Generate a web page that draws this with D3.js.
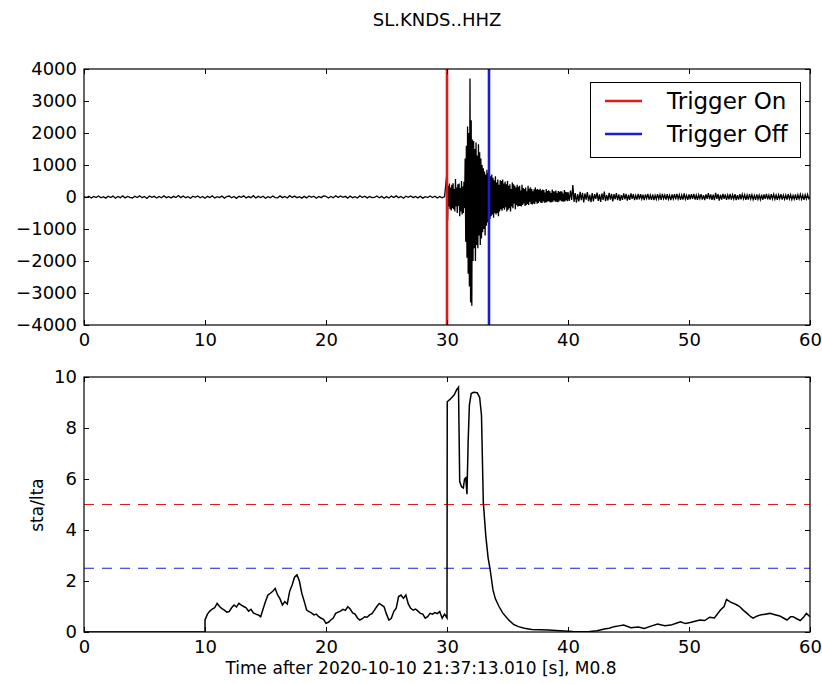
<!DOCTYPE html>
<html><head><meta charset="utf-8">
<script src="https://cdn.jsdelivr.net/npm/d3@7"></script>
<style>body{margin:0;background:#fff}svg{display:block}text{font-family:"DejaVu Sans",sans-serif;fill:#000}</style>
</head><body><svg id="c" width="822" height="684"></svg>
<script>
const title = "SL.KNDS..HHZ";
const xLabel = "Time after 2020-10-10 21:37:13.010 [s], M0.8";
const yLabel2 = "sta/lta";
const xTicks = [0,10,20,30,40,50,60];
const yTicks1 = [-4000,-3000,-2000,-1000,0,1000,2000,3000,4000];
const yTicks2 = [0,2,4,6,8,10];
const triggerOn = 30.0, triggerOff = 33.47;
const thrOn = 5.0, thrOff = 2.5;
const legendLabels = ["Trigger On","Trigger Off"];
// waveform: pre-event noise (0.2 s step from 0 s)
const preNoise = [12,-20,25,-30,18,-15,30,-25,10,-35,22,-18,28,-40,15,-22,35,-28,20,-12,
-30,25,-15,40,-20,18,-45,30,-10,22,-33,15,-25,38,-20,12,-28,20,-15,45,
-18,30,-22,10,-38,25,-12,32,-26,18,-40,22,-15,35,-30,12,-20,28,-35,15,
30,-25,18,-42,22,-10,36,-28,14,-20,40,-32,20,-15,25,-38,12,-22,30,-18,
-25,35,-20,15,-30,42,-15,28,-22,10,-35,20,-28,32,-12,25,-40,18,-20,35,
22,-30,15,-25,38,-18,30,-12,20,-35,28,-22,10,-30,40,-15,25,-28,18,-20,
-15,32,-25,20,-38,12,-30,28,-18,35,-22,15,-40,25,-12,30,-20,18,-28,22,
-35,10,-20,30,-15,25,-30,18,-25,12];
// event (0.05 s step from 30 s)
const eventVals = [780,-740,350,-300,420,-380,300,-420,380,-350,
430,-380,250,-450,560,-300,300,-500,400,-280,
420,-600,280,-450,500,-550,330,-500,480,-350,
1200,-1400,1600,-1900,2200,-2400,2000,-2800,3700,-3300,
2400,-3400,1800,-2000,1750,-1600,1500,-2000,1700,-1500,
1300,-1600,1650,-1200,1400,-1500,1200,-1300,1000,-1100,
900,-1000,800,-1200,700,-900,850,-800,750,-700,
780,-690,650,-600,700,-550,600,-650,520,-500,
650,-550,450,-500,550,-600,380,-450,520,-380,
500,-430,550,-350,420,-400,480,-320,400,-450,
500,-400,350,-350,400,-450,250,-300,450,-350,400,-200,350,-380,300,-250,380,-300,320,-280,
350,-280,200,-300,380,-250,280,-200,250,-280,300,-250,180,-220,350,-250,260,-150,300,-220,
250,-230,180,-200,240,-220,300,-150,230,-210,250,-190,220,-140,260,-180,200,-190,230,-130,
220,-180,140,-170,250,-160,190,-120,210,-150,180,-170,120,-160,230,-150,180,-110,170,-150,
200,-150,120,-160,190,-140,160,-100,180,-130,170,-140,110,-150,220,-130,160,-100,150,-130];
// coda (0.1 s step from 40 s)
const codaVals = [150,-120,200,-90,370,-150,120,-180,90,-140,
160,-100,130,-170,110,-80,150,-130,70,-160,
120,-140,90,-60,140,-120,80,-150,110,-90,
170,-130,60,-110,130,-80,100,-140,90,-70,
120,-100,80,-120,60,-90,110,-70,100,-110,
70,-90,110,-60,90,-100,50,-80,100,-70,
90,-60,70,-100,80,-50,100,-80,60,-90,
80,-100,50,-70,90,-60,70,-90,100,-50,
60,-80,90,-70,50,-100,80,-60,90,-70,
100,-60,70,-90,60,-80,110,-70,50,-90,
80,-70,90,-60,100,-80,60,-90,70,-50,
90,-80,60,-100,80,-60,120,-70,80,-90,
70,-100,130,-60,90,-110,70,-80,100,-60,
80,-90,60,-70,100,-80,70,-60,90,-100,
60,-80,90,-70,80,-60,70,-90,60,-80,
90,-60,70,-80,50,-90,80,-70,60,-80,
70,-90,80,-60,100,-70,60,-80,90,-60,
80,-70,60,-90,70,-50,90,-80,60,-70,
60,-80,90,-60,70,-80,50,-70,80,-90,
70,-60,80,-70,60,-90,70,-60,80,-50,0];
// sta/lta characteristic function
const staTimes = [0,10.0,10.0,10.2,10.4,10.6,10.8,11.0,11.2,11.4,11.6,11.8,12.0,12.2,12.4,12.6,12.8,13.0,13.2,13.4,13.6,13.8,14.0,14.2,14.4,14.6,14.8,15.0,15.2,15.4,15.6,15.8,16.0,16.2,16.4,16.6,16.8,17.0,17.2,17.4,17.6,17.8,18.0,18.2,18.4,18.6,18.8,19.0,19.2,19.4,19.6,19.8,20.0,20.2,20.4,20.6,20.8,21.0,21.2,21.4,21.6,21.8,22.0,22.2,22.4,22.6,22.8,23.0,23.2,23.4,23.6,23.8,24.0,24.2,24.4,24.6,24.8,25.0,25.2,25.4,25.6,25.8,26.0,26.2,26.4,26.6,26.8,27.0,27.2,27.4,27.6,27.8,28.0,28.2,28.4,28.6,28.8,29.0,29.2,29.4,29.6,29.8,30.0,
30.02,30.2,30.4,30.6,30.8,30.95,31.05,31.2,31.35,31.45,31.55,31.65,31.75,31.85,32.0,32.2,32.5,32.7,32.85,33.0,33.2,33.4,33.55,33.8,34.0,34.3,34.6,35.1,35.5,35.9,36.4,37.0,37.7,38.4,39.0,39.7,40.4,41.1,41.8,42.4,43.0,43.4,43.8,44.2,44.6,45.2,45.8,46.3,46.8,47.4,48.0,48.5,49.0,49.3,49.7,50.1,50.5,50.9,51.3,51.7,52.1,52.6,52.9,53.1,53.4,53.7,54.0,54.2,54.5,54.8,55.1,55.3,55.6,55.9,56.3,56.7,57.1,57.5,57.8,58.1,58.4,58.6,58.9,59.2,59.5,59.7,60.0];
const staValues = [0,0,0.47,0.7,0.82,0.9,0.95,1.12,1.0,0.92,0.86,0.78,0.8,0.95,1.06,0.98,1.12,1.05,1.0,0.95,0.82,0.89,0.75,0.7,0.67,0.6,0.9,1.2,1.45,1.52,1.6,1.71,1.45,1.3,1.06,1.19,1.1,1.6,1.84,2.15,2.24,2.0,1.52,1.2,0.86,0.8,0.75,0.67,0.7,0.6,0.54,0.5,0.34,0.38,0.47,0.55,0.73,0.78,0.82,0.89,0.85,0.99,0.9,0.75,0.7,0.55,0.47,0.52,0.6,0.58,0.67,0.72,0.86,1.0,1.12,1.05,0.99,0.7,0.47,0.54,0.8,0.93,1.39,1.45,1.32,1.45,1.1,0.93,0.86,0.9,0.82,0.73,0.7,0.54,0.6,0.73,0.7,0.76,0.72,0.8,0.54,0.7,0.55,
9.03,9.1,9.2,9.3,9.5,9.6,5.9,5.7,5.65,6.0,6.05,5.4,7.5,8.9,9.35,9.4,9.38,9.2,8.5,5.1,3.8,2.9,2.5,1.65,1.3,1.0,0.75,0.47,0.3,0.21,0.15,0.1,0.09,0.08,0.06,0.04,0.02,0.01,0.02,0.05,0.12,0.15,0.21,0.24,0.27,0.17,0.2,0.14,0.22,0.31,0.25,0.27,0.35,0.4,0.33,0.37,0.42,0.47,0.45,0.58,0.55,0.86,1.0,1.28,1.18,1.12,1.05,0.99,0.85,0.73,0.6,0.54,0.62,0.67,0.7,0.73,0.68,0.63,0.55,0.47,0.6,0.6,0.52,0.45,0.6,0.73,0.6];

const svg = d3.select("#c");
svg.append("rect").attr("width",822).attr("height",684).attr("fill","#fff");
const L=84,R=810, T1=69,B1=325, T2=377,B2=632;
const x = d3.scaleLinear().domain([0,60]).range([L,R]);
const y1 = d3.scaleLinear().domain([-4000,4000]).range([B1,T1]);
const y2 = d3.scaleLinear().domain([0,10]).range([B2,T2]);
const red="#e0191b", blue="#1b1bd6";

const wave=[];
preNoise.forEach((v,i)=>wave.push([i*0.2,v]));
eventVals.forEach((v,i)=>wave.push([30+i*0.05,v]));
codaVals.forEach((v,i)=>wave.push([40+i*0.1,v]));
const sta=staTimes.map((t,i)=>[t,staValues[i]]);

svg.append("defs").selectAll("clipPath").data([["c1",T1,B1],["c2",T2,B2]]).join("clipPath")
  .attr("id",d=>d[0]).append("rect").attr("x",L).attr("y",d=>d[1]).attr("width",R-L).attr("height",d=>d[2]-d[1]);

function frame(yS, top, bottom, yt, fmt){
  const g=svg.append("g");
  const ax = g.append("g").attr("transform",`translate(0,${bottom})`)
    .call(d3.axisBottom(x).tickValues(xTicks).tickSizeInner(-5).tickSizeOuter(0).tickPadding(8));
  const axT = g.append("g").attr("transform",`translate(0,${top})`)
    .call(d3.axisTop(x).tickValues(xTicks).tickSizeInner(-5).tickSizeOuter(0).tickFormat(""));
  const ay = g.append("g").attr("transform",`translate(${L},0)`)
    .call(d3.axisLeft(yS).tickValues(yt).tickSizeInner(-5).tickSizeOuter(0).tickPadding(7).tickFormat(fmt));
  const ayR = g.append("g").attr("transform",`translate(${R},0)`)
    .call(d3.axisRight(yS).tickValues(yt).tickSizeInner(-5).tickSizeOuter(0).tickFormat(""));
  [ax,axT,ay,ayR].forEach(a=>{a.select(".domain").remove();a.selectAll("line").attr("stroke","#000");a.selectAll("text").style("font-size","18px").attr("font-family","DejaVu Sans").attr("fill","#000");});
  return g;
}

// top panel
const wl = d3.line().x(d=>x(d[0])).y(d=>y1(d[1]));
svg.append("path").datum(wave).attr("d",wl).attr("fill","none").attr("stroke","#000").attr("stroke-width",1.3).attr("clip-path","url(#c1)");
svg.append("line").attr("x1",x(triggerOn)).attr("x2",x(triggerOn)).attr("y1",T1).attr("y2",B1).attr("stroke",red).attr("stroke-width",2.6);
svg.append("line").attr("x1",x(triggerOff)).attr("x2",x(triggerOff)).attr("y1",T1).attr("y2",B1).attr("stroke",blue).attr("stroke-width",2.6);
frame(y1,T1,B1,yTicks1,d=>d<0?"\u2212"+Math.abs(d):String(d));
svg.append("rect").attr("x",L).attr("y",T1).attr("width",R-L).attr("height",B1-T1).attr("fill","none").attr("stroke","#000").attr("stroke-width",1.2);

// legend
const lg = svg.append("g");
lg.append("rect").attr("x",590.5).attr("y",82.5).attr("width",210).attr("height",75).attr("fill","#fff").attr("stroke","#000").attr("stroke-width",1);
[red,blue].forEach((c,i)=>{
  const yy = 101 + i*33;
  lg.append("line").attr("x1",605).attr("x2",642).attr("y1",yy).attr("y2",yy).attr("stroke",c).attr("stroke-width",2.6);
  lg.append("text").attr("x",667).attr("y",yy).attr("dy","0.36em").style("font-size","23px").text(legendLabels[i]);
});

// bottom panel
const sl = d3.line().x(d=>x(d[0])).y(d=>y2(d[1]));
svg.append("line").attr("x1",L).attr("x2",R).attr("y1",y2(thrOn)).attr("y2",y2(thrOn)).attr("stroke",red).attr("stroke-width",1.2).attr("stroke-dasharray","10,8");
svg.append("line").attr("x1",L).attr("x2",R).attr("y1",y2(thrOff)).attr("y2",y2(thrOff)).attr("stroke",blue).attr("stroke-width",1.2).attr("stroke-dasharray","10,8");
svg.append("path").datum(sta).attr("d",sl).attr("fill","none").attr("stroke","#000").attr("stroke-width",1.5).attr("clip-path","url(#c2)");
frame(y2,T2,B2,yTicks2,d=>String(d));
svg.append("rect").attr("x",L).attr("y",T2).attr("width",R-L).attr("height",B2-T2).attr("fill","none").attr("stroke","#000").attr("stroke-width",1.2);

svg.append("text").attr("x",437).attr("y",20).attr("dy","0.36em").attr("text-anchor","middle").style("font-size","18px").text(title);
svg.append("text").attr("x",421).attr("y",668).attr("dy","0.36em").attr("text-anchor","middle").style("font-size","17px").text(xLabel);
svg.append("text").attr("transform","translate(37,505) rotate(-90)").attr("dy","0.36em").attr("text-anchor","middle").style("font-size","17px").text(yLabel2);
</script></body></html>
